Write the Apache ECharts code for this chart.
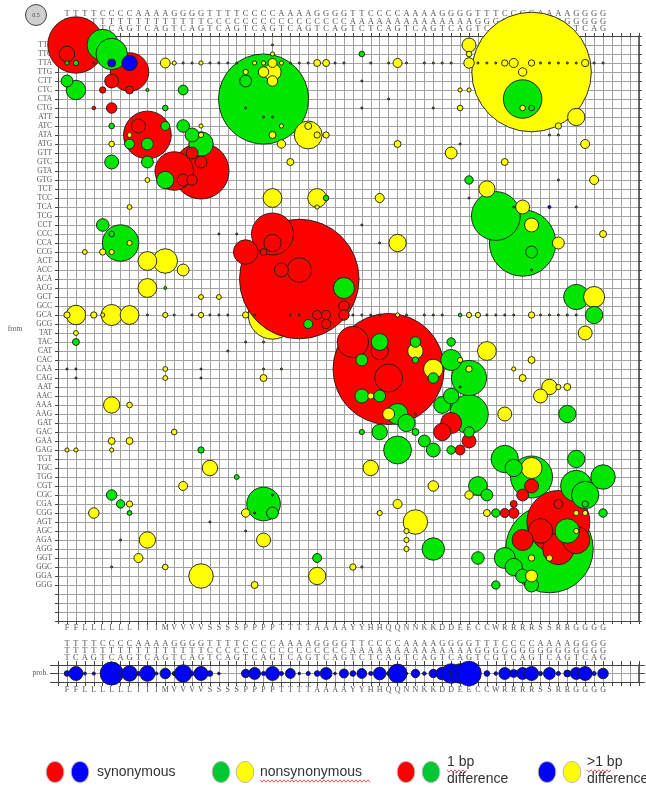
<!DOCTYPE html>
<html>
<head>
<meta charset="utf-8">
<script src="https://cdn.jsdelivr.net/npm/echarts@6/dist/echarts.min.js"></script>
<style>
  html, body { margin: 0; padding: 0; background: #fff; }
  #c { width: 646px; height: 787px; }
</style>
</head>
<body>
<div id="c"></div>
<script>
// Sense codons, grouped by second base, then first base, then third base
const codons = ['TTT','TTC','TTA','TTG','CTT','CTC','CTA','CTG','ATT','ATC','ATA','ATG','GTT','GTC','GTA','GTG',
  'TCT','TCC','TCA','TCG','CCT','CCC','CCA','CCG','ACT','ACC','ACA','ACG','GCT','GCC','GCA','GCG',
  'TAT','TAC','CAT','CAC','CAA','CAG','AAT','AAC','AAA','AAG','GAT','GAC','GAA','GAG',
  'TGT','TGC','TGG','CGT','CGC','CGA','CGG','AGT','AGC','AGA','AGG','GGT','GGC','GGA','GGG'];
const aminoAcids = 'FFLLLLLLIIIMVVVVSSSSPPPPTTTTAAAAYYHHQQNNKKDDEECCWRRRRSSRRGGGG'.split('');

// Substitution rates [to (column), from (row), rate]
// synonymous, 1 bp difference
const synonymous1bp = [
  [1,0,3.6],[0,1,0.27],[7,3,1.68],[5,4,0.22],[7,5,0.07],[4,5,0.045],[3,7,0.015],[5,7,0.125],
  [9,10,2.58],[8,9,0.22],[12,14,1.68],[15,14,3.56],[14,12,0.16],[15,13,0.16],[13,15,0.16],[14,15,0.125],
  [23,21,2.0],[23,22,0.34],[20,23,0.68],[22,23,0.055],[26,26,16.2],[26,25,0.68],[24,25,0.22],
  [28,30,0.092],[29,30,0.092],[29,31,0.1],[31,29,0.125],[31,30,0.125],
  [36,36,14.0],[32,33,1.12],[35,34,0.34],[36,37,0.88],[43,42,0.5],[42,43,0.34],[45,44,0.22],[44,45,0.11],
  [52,49,0.22],[51,50,0.16],[50,51,0.055],[49,52,0.092],[50,52,0.125],
  [55,53,4.5],[53,54,0.68],[51,55,0.5],[55,56,1.12],[57,55,0.85],[55,51,0.092]
];
// synonymous, more than 1 bp difference
const synonymousMulti = [
  [5,2,0.07],[7,2,0.27],[54,18,0.011]
];
// nonsynonymous, 1 bp difference
const nonsynonymous1bp = [
  [4,0,1.12],[5,1,1.12],[0,2,0.02],[1,2,0.031],[0,4,0.16],[1,5,0.43],[9,5,0.011],[13,5,0.11],[11,7,0.036],
  [22,6,9.2],[20,4,0.16],[33,1,0.036],[51,6,1.68],[52,7,0.036],
  [7,11,0.11],[9,11,0.16],[9,13,0.16],[5,13,0.22],[5,9,0.036],[11,9,0.092],[13,9,0.18],[14,10,0.22],[15,11,0.68],[11,15,0.34],
  [4,20,0.18],[6,22,1.5],[5,21,0.036],[11,27,0.01],[29,17,0.036],[45,15,0.08],[48,19,2.7],[51,22,5.0],[52,23,0.16],
  [31,27,0.5],[57,28,0.72],[59,30,0.34],[27,31,0.092],[1,33,0.055],[15,45,0.045],[19,48,0.027],
  [5,50,0.125],[6,51,0.08],[7,52,0.027],[22,51,1.28],[23,52,0.16],[28,57,0.092],
  [35,33,0.32],[33,35,0.16],[39,33,0.125],[39,35,0.045],[41,37,0.125],[43,33,0.08],[43,35,0.5],[45,37,1.4],
  [43,39,0.27],[45,41,1.68],[42,40,0.32],[45,43,0.125],[43,45,0.08],[41,45,0.22],[40,44,0.16],[39,43,0.055],
  [37,45,0.88],[35,43,0.27],[33,43,0.031],[33,39,0.22],[35,39,0.16],[37,41,0.5],[38,42,0.34],[56,41,0.34],
  [41,56,0.57],[46,57,0.18],[48,60,0.08],[46,49,0.4],[47,50,0.16],[48,52,0.08],[60,52,0.08],[58,51,0.045],
  [49,46,0.85],[50,47,0.34],[52,48,2.0],[57,46,0.34],[57,49,1.12],[60,48,0.68],[58,50,0.85],[56,54,0.68],
  [54,56,8.7],[49,57,0.5],[50,58,0.34],[51,59,0.22],[52,60,0.22],[44,30,0.015]
];
// nonsynonymous, more than 1 bp difference
const nonsynonymousMulti = [
  [11,2,0.11],[12,2,0.02],[15,2,0.02],[23,2,0.092],[21,2,0.02],[22,2,0.02],[24,2,0.02],[20,3,0.031],
  [23,3,0.34],[22,3,0.125],[23,4,0.125],[23,1,0.02],[28,2,0.055],[29,2,0.055],
  [27,10,0.88],[27,9,0.055],[28,10,0.045],[29,10,0.045],[24,9,0.02],[15,9,0.02],[15,10,0.031],
  [52,3,16.2],[51,7,0.036],[51,3,0.08],[50,2,0.092],[49,2,0.045],[52,2,0.045],[58,2,0.06],
  [45,0,0.22],[45,1,0.036],[45,2,0.125],[37,2,0.092],[57,8,0.34],[44,5,0.02],[45,5,0.02],[44,7,0.036],[55,9,0.045],
  [5,11,0.036],[7,10,0.027],[9,15,0.027],[25,13,0.055],[24,11,0.08],[23,10,0.055],
  [23,17,0.4],[28,17,0.4],[28,18,0.02],[7,18,0.027],[7,22,0.03],[5,23,0.03],[4,23,0.045],[2,23,0.027],
  [9,24,0.4],[11,24,0.68],[13,25,0.16],[9,27,0.4],[15,28,0.027],[17,28,0.027],
  [43,12,0.16],[49,13,0.055],[58,11,0.092],[59,15,0.092],[37,11,0.055],[47,16,0.3],[51,18,0.22],[52,20,0.22],
  [55,22,0.16],[60,21,0.055],[35,17,0.092],[37,22,0.34],[59,28,0.5],
  [23,30,2.65],[1,30,0.43],[0,30,0.045],[3,30,0.045],[5,30,0.5],[4,30,0.02],[7,30,0.4],[11,30,0.031],[15,30,0.031],
  [20,30,0.045],[37,30,0.02],[45,30,0.031],[46,30,0.031],[52,30,0.045],
  [1,32,0.027],[11,36,0.027],[11,37,0.027],[22,37,0.055],[5,40,0.3],[7,40,0.036],[12,43,0.036],[5,44,0.055],[7,44,0.055],
  [0,45,0.02],[1,45,0.02],[5,45,0.02],[16,47,0.27],[13,49,0.092],[7,51,0.045],[3,52,0.125],[20,52,0.08],
  [9,55,0.3],[22,55,0.22],[8,57,0.092],[11,58,0.036],[15,59,0.68],[21,60,0.055],[28,59,0.34],
  [58,32,0.22],[39,34,0.27],[41,36,0.43],[44,35,0.031],[45,36,0.045],[47,34,0.4],[52,35,0.055],[50,36,0.02],
  [51,37,0.055],[54,38,0.27],[53,39,0.22],[56,38,0.055],[55,38,0.031],[49,41,0.22],[34,39,0.045],[36,41,0.16],
  [34,47,0.27],[41,49,0.125],[37,51,0.092],[35,52,0.031],[39,53,0.68],[38,54,0.031],[38,55,0.031],[38,56,0.031],
  [32,58,0.045],[45,50,0.08],[47,52,0.055],[52,47,0.5],[57,54,0.031],[57,52,0.031],[58,52,0.031],
  [52,59,0.16],[52,57,0.045],[54,57,0.045]
];
// very small rates
const traceRates = [
  [3,2,0.005],[13,2,0.005],[14,2,0.005],[16,2,0.005],[17,2,0.005],[18,2,0.005],[19,2,0.005],[25,2,0.005],
  [26,2,0.005],[27,2,0.005],[30,2,0.005],[31,2,0.005],[34,2,0.005],[36,2,0.005],[38,2,0.005],[40,2,0.005],
  [41,2,0.005],[42,2,0.005],[43,2,0.005],[46,2,0.005],[47,2,0.005],[48,2,0.005],[53,2,0.005],[54,2,0.005],
  [55,2,0.005],[56,2,0.005],[57,2,0.005],[59,2,0.005],[60,2,0.005],
  [9,30,0.005],[12,30,0.005],[14,30,0.005],[16,30,0.005],[17,30,0.005],[18,30,0.005],[21,30,0.005],[25,30,0.005],
  [26,30,0.005],[32,30,0.005],[33,30,0.005],[34,30,0.005],[35,30,0.005],[38,30,0.005],[40,30,0.005],[41,30,0.005],
  [42,30,0.005],[47,30,0.005],[48,30,0.005],[49,30,0.005],[50,30,0.005],[53,30,0.005],[54,30,0.005],[55,30,0.005],
  [56,30,0.005],[57,30,0.005],
  [23,0,0.005],[20,7,0.005],[22,8,0.005],[23,8,0.005],[33,4,0.005],[33,7,0.005],[36,6,0.005],[41,7,0.005],
  [44,11,0.005],[54,10,0.005],[55,10,0.005],[17,21,0.005],[19,21,0.005],[33,20,0.005],[35,22,0.005],[50,18,0.005],
  [57,18,0.005],[55,15,0.005],[22,36,0.005],[24,36,0.005],[5,58,0.005],[0,36,0.005],[1,36,0.005],[1,37,0.005],
  [15,36,0.005],[15,37,0.005],[18,34,0.005],[21,52,0.005],[20,54,0.005],[16,53,0.005],[23,50,0.005],[6,55,0.005],
  [22,33,0.005],[20,33,0.005],[52,25,0.005],[45,17,0.005],[39,41,0.005],[44,38,0.005],[33,58,0.005]
];
// cells drawn underneath the rest
const drawnFirst = ['23,30'];
// codon probabilities
const codonProb = [0.036,0.22,0.011,0.011,0.02,0.6,0.02,0.27,0.02,0.27,0.011,0.125,0.02,0.34,0.02,0.22,
  0.036,0.008,0,0,0.08,0.16,0.02,0.22,0.02,0.11,0.008,0.02,0.036,0.16,0.008,0.092,
  0.036,0.11,0.02,0.18,0.02,0.4,0.008,0.08,0.015,0.08,0.18,0.43,0.43,0.68,
  0,0.036,0.015,0.16,0.07,0.16,0.22,0.02,0.16,0.02,0.055,0.16,0.22,0.02,0.125];

const KEY_RATE = 0.5, KEY_DIAM = 21;
const diam = v => KEY_DIAM * Math.sqrt(v / KEY_RATE);

const COLORS = { s1: '#ff0000', s2: '#0000ff', n1: '#00e600', n2: '#ffff00', tr: '#6f7a2c' };
const points = [];
const addAll = (arr, type) => arr.forEach(d => points.push({ value: d, type }));
addAll(synonymous1bp, 's1');
addAll(synonymousMulti, 's2');
addAll(nonsynonymous1bp, 'n1');
addAll(nonsynonymousMulti, 'n2');
addAll(traceRates, 'tr');
const rank = p => (drawnFirst.includes(p.value[0] + ',' + p.value[1]) ? 1e6 : 0) + p.value[2];
points.sort((a, b) => rank(b) - rank(a));
const mainData = points.map(p => ({ value: p.value, itemStyle: { color: COLORS[p.type] } }));
const probData = codonProb.map((v, i) => [i, 0, v]).filter(d => d[2] > 0);

const SERIF = '"Liberation Serif", "DejaVu Serif", serif';
const LBL = '#555';
const codonStack = v => codons[v] ? codons[v].split('').join('\n') : '';
const aaLabel = v => aminoAcids[v] || '';

const baseX = (grid, pos, formatter, opts) => Object.assign({
  type: 'value', gridIndex: grid, position: pos, min: -1, max: 64, interval: 1,
  axisLine: { show: true, onZero: false, lineStyle: { color: '#444', width: 1 } },
  axisTick: { show: true, length: 3, lineStyle: { color: '#444' } },
  axisLabel: { show: true, formatter, fontFamily: SERIF, color: LBL, fontSize: 8 },
  splitLine: { show: false }
}, opts || {});

const gridLine = { show: true, lineStyle: { color: '#a2a2a2', width: 1 } };

const option = {
  animation: false,
  backgroundColor: '#fff',
  grid: [
    { left: 58.07, top: 36, width: 580.7, height: 585 },
    { left: 58.07, top: 665, width: 580.7, height: 17 }
  ],
  xAxis: [
    baseX(0, 'bottom', aaLabel, { splitLine: gridLine, axisLabel: { formatter: aaLabel, fontFamily: SERIF, color: LBL, fontSize: 8, margin: 3 } }),
    baseX(0, 'top', codonStack, { axisLabel: { formatter: codonStack, fontFamily: SERIF, color: LBL, fontSize: 8.5, lineHeight: 7.5, margin: 3 } }),
    baseX(1, 'bottom', aaLabel, { splitLine: gridLine, axisTick: { show: true, length: 4, lineStyle: { color: '#444' } }, axisLabel: { formatter: aaLabel, fontFamily: SERIF, color: LBL, fontSize: 8, margin: 4 } }),
    baseX(1, 'top', codonStack, { axisTick: { show: true, length: 4, lineStyle: { color: '#444' } }, axisLabel: { formatter: codonStack, fontFamily: SERIF, color: LBL, fontSize: 8.5, lineHeight: 7, margin: 4 } })
  ],
  yAxis: [
    { type: 'value', gridIndex: 0, position: 'left', inverse: true, min: -1, max: 64, interval: 1,
      axisLine: { show: true, onZero: false, lineStyle: { color: '#444' } },
      axisTick: { show: true, length: 3, lineStyle: { color: '#444' } },
      axisLabel: { formatter: v => codons[v] || '', fontFamily: SERIF, color: LBL, fontSize: 7.5, margin: 6 },
      splitLine: gridLine },
    { type: 'value', gridIndex: 0, position: 'right', inverse: true, min: -1, max: 64, interval: 1,
      axisLine: { show: true, onZero: false, lineStyle: { color: '#444', width: 1.5 } },
      axisTick: { show: true, length: 3, lineStyle: { color: '#444' } },
      axisLabel: { show: false }, splitLine: { show: false } },
    { type: 'value', gridIndex: 1, position: 'left', min: -1, max: 1, interval: 1,
      axisLine: { show: true, onZero: false, lineStyle: { color: '#444' } },
      axisTick: { show: true, length: 8, lineStyle: { color: '#444' } },
      axisLabel: { formatter: v => v === 0 ? 'prob.' : '', fontFamily: SERIF, color: LBL, fontSize: 7.5, margin: 10 },
      splitLine: gridLine },
    { type: 'value', gridIndex: 1, position: 'right', min: -1, max: 1, interval: 1,
      axisLine: { show: true, onZero: false, lineStyle: { color: '#444', width: 1.5 } },
      axisTick: { show: true, length: 6, lineStyle: { color: '#444' } },
      axisLabel: { show: false }, splitLine: { show: false } }
  ],
  series: [
    { type: 'scatter', xAxisIndex: 0, yAxisIndex: 0, data: mainData,
      symbolSize: v => diam(v[2]),
      itemStyle: { borderColor: '#1a1a1a', borderWidth: 0.9, opacity: 1 },
      emphasis: { disabled: true } },
    { type: 'scatter', xAxisIndex: 2, yAxisIndex: 2, data: probData,
      symbolSize: v => diam(v[2]),
      itemStyle: { color: '#0000ff', borderColor: '#1a1a1a', borderWidth: 0.9, opacity: 1 },
      emphasis: { disabled: true } }
  ],
  graphic: []
};

// size key and axis title
const keyR = diam(KEY_RATE) / 2;
option.graphic.push(
  { type: 'circle', shape: { cx: 36, cy: 15, r: keyR }, style: { fill: '#cfcfcf', stroke: '#444', lineWidth: 1 } },
  { type: 'text', x: 36, y: 15, style: { text: String(KEY_RATE), fill: '#444', font: '6px ' + SERIF, align: 'center', verticalAlign: 'middle' } },
  { type: 'text', x: 15, y: 329, style: { text: 'from', fill: LBL, font: '7.5px ' + SERIF, align: 'center', verticalAlign: 'middle' } }
);

// legend
const LEG_Y = 772;
const SANS = '"Liberation Sans", Arial, sans-serif';
const wavy = (x0, x1, y) => {
  const pts = [];
  for (let x = x0, k = 0; x <= x1; x += 2, k++) pts.push([x, y + (k % 2 ? 1.2 : -1.2)]);
  return { type: 'polyline', shape: { points: pts }, style: { stroke: '#e03030', lineWidth: 0.8, fill: null } };
};
const ell = (cx, color) => ({ type: 'ellipse', shape: { cx, cy: LEG_Y, rx: 8.8, ry: 10.5 }, style: { fill: color, stroke: '#b8b8b8', lineWidth: 1 } });
const txt = (x, y, s) => ({ type: 'text', x, y, style: { text: s, fill: '#333', font: '14px ' + SANS, verticalAlign: 'middle' } });
option.graphic.push(
  ell(55, COLORS.s1), ell(80, COLORS.s2), txt(97, LEG_Y, 'synonymous'),
  ell(221, '#00c832'), ell(245, COLORS.n2), txt(260, LEG_Y, 'nonsynonymous'), wavy(260, 370, LEG_Y + 9),
  ell(406, COLORS.s1), ell(431, '#00c832'), txt(447, LEG_Y - 10, '1 bp'), wavy(447, 468, LEG_Y - 1), txt(447, LEG_Y + 7, 'difference'),
  ell(547, COLORS.s2), ell(572, COLORS.n2), txt(587, LEG_Y - 10, '>1 bp'), wavy(587, 611, LEG_Y - 1), txt(587, LEG_Y + 7, 'difference')
);

const chart = echarts.init(document.getElementById('c'), null, { renderer: 'canvas' });
chart.setOption(option);
</script>
</body>
</html>
